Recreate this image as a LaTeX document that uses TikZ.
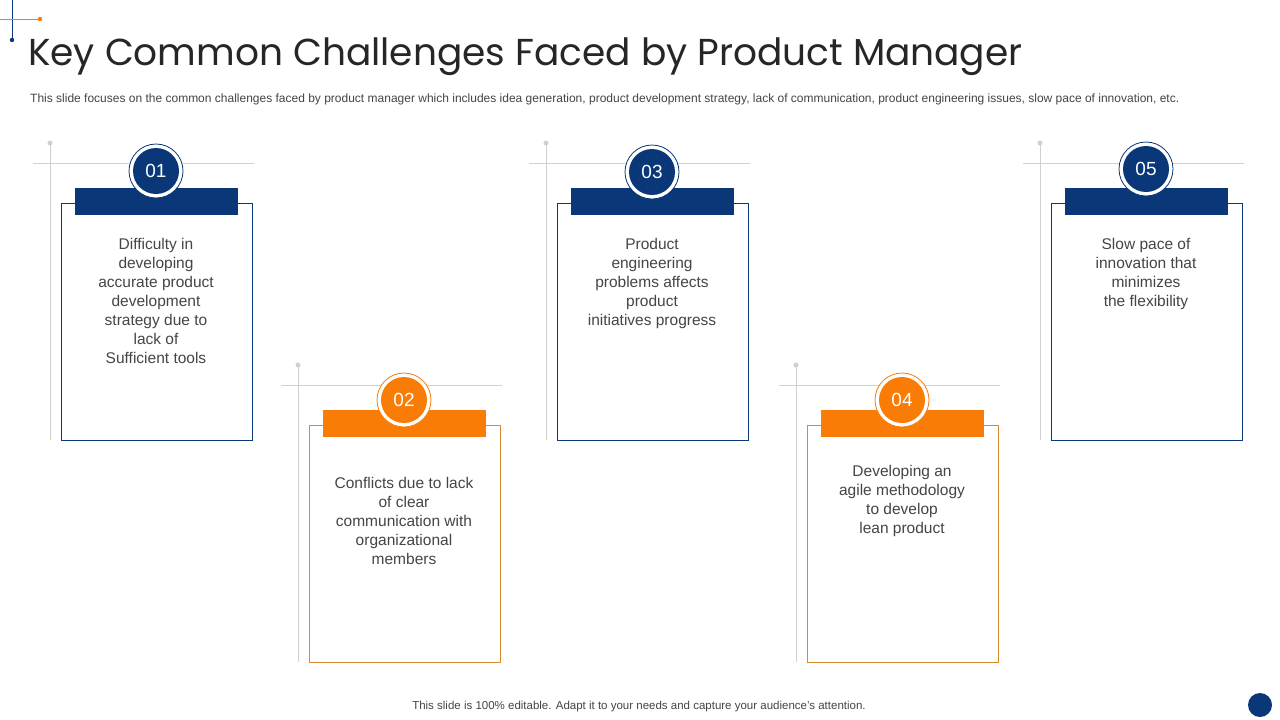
\documentclass[tikz,border=0pt]{standalone}
\usepackage{fontspec}
\setmainfont{Liberation Sans}
\newfontfamily\titlefont{Poppins}
\definecolor{navy}{HTML}{0A3778}
\definecolor{orng}{HTML}{F97C06}
\definecolor{oline}{HTML}{D98A2E}
\definecolor{gline}{HTML}{D0D0D0}
\definecolor{txt}{HTML}{454545}
\begin{document}
\begin{tikzpicture}[x=1pt,y=-1pt,
  guide/.style={draw=gline,line width=0.8pt},
  cardbox/.style={draw=#1,line width=0.9pt,fill=white},
  bodytxt/.style={text=txt,font=\fontsize{15.5}{19}\selectfont,align=center,anchor=north,inner sep=0pt}]
\useasboundingbox (0,0) rectangle (1280,720);
\fill[white] (0,0) rectangle (1280,720);
% corner
\draw[navy,line width=1pt] (12,0) -- (12,40); \fill[navy] (12,40) circle (2.2);
\draw[orng,line width=1pt] (0,19) -- (40,19); \fill[orng] (40,19) circle (2.2);
\node[anchor=west,inner sep=0pt,font=\titlefont\fontsize{37.5}{42}\selectfont,text=black!85] (title) at (28,57) {Key Common Challenges Faced by Product Manager};
\node[anchor=west,inner sep=0pt,font=\fontsize{12}{14}\selectfont,text=txt] (sub) at (30,99) {This slide focuses on the common challenges faced by product manager which includes idea generation, product development strategy, lack of communication, product engineering issues, slow pace of innovation, etc.};
% cards
\newcommand\card[9]{%
  \begin{scope}[shift={(#1,#2)}]
  \draw[guide] (-106,-45) -- (-106,252); \fill[gline] (-106,-45) circle (2.5);
  \draw[guide] (-123,-25) -- (98,-25);
  \draw[cardbox=#4] (-95,15) rectangle (96,252);
  \fill[#3] (-81,0) rectangle (82,27);
  \fill[white] (0,#8) circle (27);
  \draw[#3,line width=0.8pt] (0,#8) circle (27);
  \node[circle,fill=#3,minimum size=46pt,inner sep=0pt,text=white,font=\fontsize{19}{20}\selectfont] (#7n) at (0,#8) {#5};
  \node[bodytxt] (#7t) at (0,#9) {#6};
  \end{scope}}
\card{156}{188}{navy}{navy}{01}{Difficulty in\\developing\\accurate product\\development\\strategy due to\\lack of\\Sufficient tools}{a}{-17}{50}
\card{404}{410}{orng}{oline}{02}{Conflicts due to lack\\of clear\\communication with\\organizational\\members}{b}{-10}{67}
\card{652}{188}{navy}{navy}{03}{Product\\engineering\\problems affects\\product\\initiatives progress}{c}{-16}{50}
\card{902}{410}{orng}{oline}{04}{Developing an\\agile methodology\\to develop\\lean product}{d}{-10}{55}
\card{1146}{188}{navy}{navy}{05}{Slow pace of\\innovation that\\minimizes\\the flexibility}{e}{-19}{50}
\node[font=\fontsize{11.5}{13}\selectfont,text=txt] (foot) at (639,707) {This slide is 100\% editable. Adapt it to your needs and capture your audience's attention.};
\fill[navy] (1260,705) circle (12);
\end{tikzpicture}
\end{document}
